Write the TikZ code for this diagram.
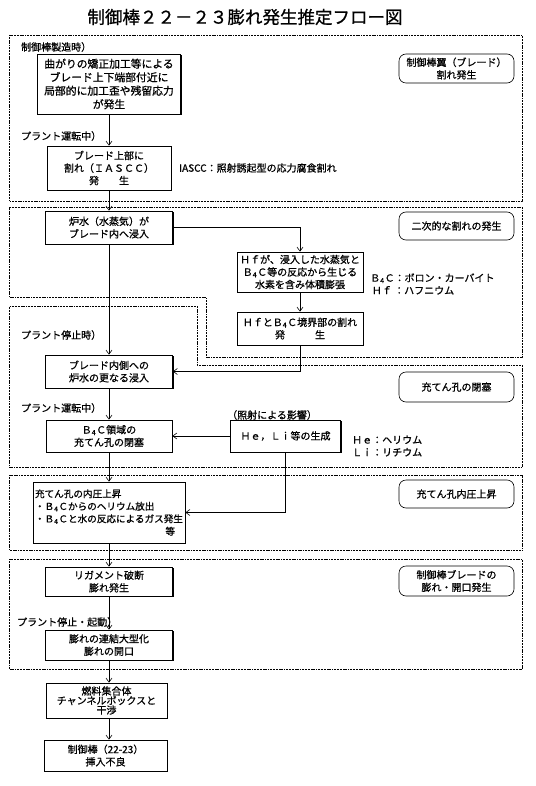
\documentclass[tikz,border=0pt]{standalone}
\usepackage{fontspec}
\setmainfont{Noto Sans CJK JP}[FakeBold=0.8]
\usetikzlibrary{arrows.meta,shadows}
\newcommand{\bfc}{Ｂ\textsubscript{4}Ｃ}

\begin{document}
\begin{tikzpicture}[x=1pt,y=-1pt,
		font=\fontsize{10}{12.5}\selectfont,
		box/.style={draw,line width=0.8pt,fill=white,align=center,inner sep=2pt,
			drop shadow={shadow xshift=1.4pt,shadow yshift=-1.4pt,fill=black,opacity=1}},
		tag/.style={draw,line width=0.6pt,rounded corners=7pt,align=center,minimum width=115pt,inner sep=1pt},
		grp/.style={line width=0.6pt,dash pattern=on 1.2pt off 0.8pt on 0.4pt off 0.8pt},
		arr/.style={line width=0.6pt,-{Straight Barb[length=4pt,width=6pt]}},
		lbl/.style={anchor=west,inner sep=0pt}]
		\useasboundingbox (0,0) rectangle (535,786);
		\draw[grp] (9.5,35) rectangle (522,201);
		\draw[grp] (9.5,207) -- (522,207) -- (522,357) -- (206,357) -- (206,297) -- (9.5,297) -- cycle;
		\draw[grp] (9.5,306) -- (197,306) -- (197,365) -- (522,365) -- (522,467) -- (9.5,467) -- cycle;
		\draw[grp] (9.5,475) rectangle (522,550);
		\draw[grp] (9.5,559) rectangle (522,669);
		\node[font=\fontsize{17.5}{20}\selectfont] (title) at (245,17) {制御棒２２－２３膨れ発生推定フロー図};
		\node[box,minimum width=143pt,minimum height=60pt,font=\fontsize{10.8}{13.5}\selectfont] (b1) at (109,84) {曲がりの矯正加工等による\\ブレード上下端部付近に\\局部的に加工歪や残留応力\\が発生};
		\node[box,minimum width=124pt,minimum height=44pt] (b2) at (109,168) {ブレード上部に\\割れ（ＩＡＳＣＣ）\\発　　生};
		\node[box,minimum width=127pt,minimum height=33pt] (b3) at (109,227.5) {炉水（水蒸気）が\\ブレード内へ浸入};
		\node[box,minimum width=126pt,minimum height=40pt] (hf) at (300,272) {Ｈｆが、浸入した水蒸気と\\\bfc{}等の反応から生じる\\水素を含み体積膨張};
		\node[box,minimum width=126pt,minimum height=33pt] (hfb) at (300,328.5) {Ｈｆと\bfc{}境界部の割れ\\発　　　生};
		\node[box,minimum width=127pt,minimum height=33pt] (b4) at (109,371.5) {ブレード内側への\\炉水の更なる浸入};
		\node[box,minimum width=126pt,minimum height=32pt] (b5) at (109,436) {\bfc{}領域の\\充てん孔の閉塞};
		\node[box,minimum width=110pt,minimum height=32pt] (heli) at (285.5,436) {Ｈｅ，Ｌｉ等の生成};
		\node[box,minimum width=152pt,minimum height=61pt,text width=148pt,align=left,font=\fontsize{9.6}{12.5}\selectfont] (b6) at (109,512.5) {充てん孔の内圧上昇\\・\bfc{}からのヘリウム放出\\・\bfc{}と水の反応によるガス発生\\\makebox[148pt][r]{等\hspace{8pt}}};
		\node[box,minimum width=127pt,minimum height=29pt] (b7) at (109,581.5) {リガメント破断\\膨れ発生};
		\node[box,minimum width=127pt,minimum height=30pt] (b8) at (109,645) {膨れの連結大型化\\膨れの開口};
		\node[box,minimum width=121pt,minimum height=35pt,font=\fontsize{10}{9.5}\selectfont] (b9) at (106.5,700.5) {燃料集合体\\チャンネルボックスと\\干渉};
		\node[box,minimum width=123pt,minimum height=31pt] (b10) at (105.5,755.5) {制御棒（22-23）\\挿入不良};
		\node[tag,minimum height=29pt] (r1) at (456.5,68.5) {制御棒翼（ブレード）\\割れ発生};
		\node[tag,minimum height=28pt] (r2) at (456.5,226) {二次的な割れの発生};
		\node[tag,minimum height=30pt] (r3) at (456.5,387) {充てん孔の閉塞};
		\node[tag,minimum height=28pt] (r4) at (456.5,494) {充てん孔内圧上昇};
		\node[tag,minimum height=30pt] (r5) at (456.5,581) {制御棒ブレードの\\膨れ・開口発生};
		\node[lbl] (l1) at (21,47) {制御棒製造時）};
		\node[lbl] (l2) at (21,136) {プラント運転中）};
		\node[lbl] (l3) at (179,168) {IASCC：照射誘起型の応力腐食割れ};
		\node[lbl,align=left] (l4) at (370,284) {\bfc{}：ボロン・カーバイト\\\makebox[2.4em][l]{\,Ｈｆ}：ハフニウム};
		\node[lbl] (l5) at (21,335) {プラント停止時）};
		\node[lbl] (l6) at (21,408) {プラント運転中）};
		\node[lbl] (l7) at (227,415) {（照射による影響）};
		\node[lbl,align=left] (l8) at (352,446) {Ｈｅ：ヘリウム\\Ｌｉ：リチウム};
		\node[lbl] (l9) at (17,622) {プラント停止・起動）};
		\draw[arr] (b1) -- (b2);
		\draw[arr] (b2) -- (b3);
		\draw[arr] (b3) -- (b4);
		\draw[arr] (b3.east) -| (hf.north);
		\draw[arr] (hf) -- (hfb);
		\draw[arr] (hfb.south) |- (b4.east);
		\draw[arr] (b4) -- (b5);
		\draw[arr] (heli) -- (b5);
		\draw[arr] (heli.south) |- (b6.east);
		\draw[arr] (b5) -- (b6);
		\draw[arr] (b6) -- (b7);
		\draw[arr] (b7) -- (b8);
		\draw[arr] (b8.south) -- (b8.south |- b9.north);
		\draw[arr] (b8.south |- b9.south) -- (b8.south |- b10.north);
	\end{tikzpicture}
\end{document}
